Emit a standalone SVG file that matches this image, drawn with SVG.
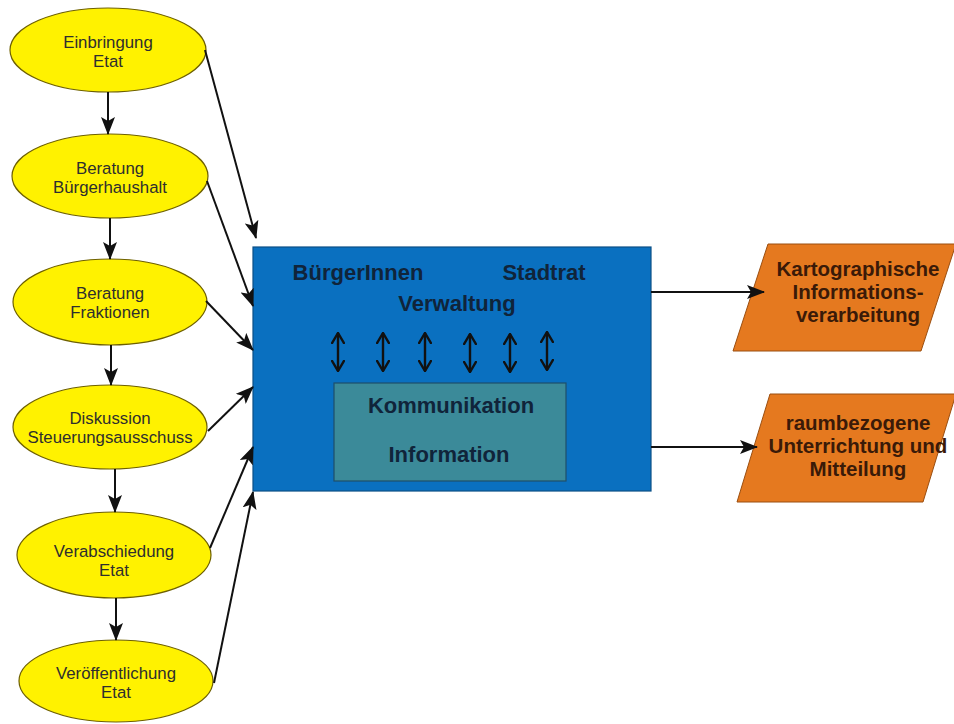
<svg xmlns="http://www.w3.org/2000/svg" width="954" height="724" viewBox="0 0 954 724">
<defs>
<marker id="ah" viewBox="0 0 18 14" refX="17" refY="7" markerWidth="18" markerHeight="14" markerUnits="userSpaceOnUse" orient="auto-start-reverse">
<path d="M0,0 L18,7 L0,14 L4,7 Z" fill="#111"/>
</marker>
<marker id="ahs" viewBox="0 0 12 14" refX="11" refY="7" markerWidth="12" markerHeight="14" markerUnits="userSpaceOnUse" orient="auto-start-reverse">
<path d="M0,0.5 L11,7 L0,13.5" fill="none" stroke="#111" stroke-width="2.4"/>
</marker>
</defs>
<style>
.ell{fill:#fff200;stroke:#6e6000;stroke-width:1.2}
.et{font-family:"Liberation Sans",Arial,sans-serif;font-size:16.8px;fill:#2e2e2e;text-anchor:middle}
.bt{font-family:"Liberation Sans",Arial,sans-serif;font-size:22px;font-weight:bold;fill:#10243a;text-anchor:middle}
.ot{font-family:"Liberation Sans",Arial,sans-serif;font-size:20.5px;font-weight:bold;fill:#3a1a08;text-anchor:middle}
.par{fill:#e5791f;stroke:#9a4e10;stroke-width:1}
.c{stroke:#111;stroke-width:2;fill:none}
.d{stroke:#111;stroke-width:2.4;fill:none}
</style>
<rect width="954" height="724" fill="#fff"/>
<g id="n1"><ellipse class="ell" cx="108" cy="50" rx="98" ry="42"/><text class="et" x="108" y="48">Einbringung</text><text class="et" x="108" y="67">Etat</text></g>
<g id="n2"><ellipse class="ell" cx="110" cy="176" rx="98" ry="42"/><text class="et" x="110" y="174">Beratung</text><text class="et" x="110" y="193">Bürgerhaushalt</text></g>
<g id="n3"><ellipse class="ell" cx="110" cy="302" rx="97" ry="43"/><text class="et" x="110" y="299">Beratung</text><text class="et" x="110" y="318">Fraktionen</text></g>
<g id="n4"><ellipse class="ell" cx="110" cy="427" rx="97" ry="42"/><text class="et" x="110" y="424">Diskussion</text><text class="et" x="110" y="443">Steuerungsausschuss</text></g>
<g id="n5"><ellipse class="ell" cx="114" cy="555" rx="97" ry="43"/><text class="et" x="114" y="557">Verabschiedung</text><text class="et" x="114" y="576">Etat</text></g>
<g id="n6"><ellipse class="ell" cx="116" cy="681" rx="97" ry="41"/><text class="et" x="116" y="679">Veröffentlichung</text><text class="et" x="116" y="698">Etat</text></g>
<g id="main">
<rect x="253" y="247" width="398" height="244" fill="#0a70c0" stroke="#0b4f86" stroke-width="1.2"/>
<text class="bt" x="358" y="280">BürgerInnen</text>
<text class="bt" x="544" y="280">Stadtrat</text>
<text class="bt" x="457" y="311">Verwaltung</text>
</g>
<g id="inner">
<rect x="334" y="383" width="232" height="98" fill="#3b8a99" stroke="#1f4f6a" stroke-width="1.2"/>
<text class="bt" x="451" y="413">Kommunikation</text>
<text class="bt" x="449" y="462">Information</text>
</g>
<g id="out1"><polygon class="par" points="768,244 956,244 921,351 733,351"/><text class="ot" x="858" y="276">Kartographische</text><text class="ot" x="858" y="299">Informations-</text><text class="ot" x="858" y="322">verarbeitung</text></g>
<g id="out2"><polygon class="par" points="770,394 956,394 923,502 737,502"/><text class="ot" x="858" y="430">raumbezogene</text><text class="ot" x="858" y="453">Unterrichtung und</text><text class="ot" x="858" y="476">Mitteilung</text></g>
<g id="connectors">
<line class="c" x1="108" y1="92" x2="108" y2="134" marker-end="url(#ah)"/>
<line class="c" x1="110" y1="218" x2="110" y2="259" marker-end="url(#ah)"/>
<line class="c" x1="111" y1="345" x2="111" y2="385" marker-end="url(#ah)"/>
<line class="c" x1="115" y1="469" x2="115" y2="512" marker-end="url(#ah)"/>
<line class="c" x1="116" y1="598" x2="116" y2="640" marker-end="url(#ah)"/>
<line class="c" x1="205" y1="50" x2="256" y2="238" marker-end="url(#ah)"/>
<line class="c" x1="207" y1="181" x2="253" y2="306" marker-end="url(#ah)"/>
<line class="c" x1="206" y1="301" x2="253" y2="350" marker-end="url(#ah)"/>
<line class="c" x1="208" y1="431" x2="253" y2="387" marker-end="url(#ah)"/>
<line class="c" x1="210" y1="548" x2="253" y2="447" marker-end="url(#ah)"/>
<line class="c" x1="214" y1="683" x2="253" y2="492" marker-end="url(#ah)"/>
<line class="c" x1="651" y1="292" x2="764" y2="292" marker-end="url(#ah)"/>
<line class="c" x1="651" y1="447" x2="757" y2="447" marker-end="url(#ah)"/>
<line class="d" x1="338" y1="333" x2="338" y2="371" marker-start="url(#ahs)" marker-end="url(#ahs)"/>
<line class="d" x1="383" y1="333" x2="383" y2="371" marker-start="url(#ahs)" marker-end="url(#ahs)"/>
<line class="d" x1="425" y1="333" x2="425" y2="371" marker-start="url(#ahs)" marker-end="url(#ahs)"/>
<line class="d" x1="470" y1="334" x2="470" y2="372" marker-start="url(#ahs)" marker-end="url(#ahs)"/>
<line class="d" x1="510" y1="334" x2="510" y2="372" marker-start="url(#ahs)" marker-end="url(#ahs)"/>
<line class="d" x1="547" y1="332" x2="547" y2="370" marker-start="url(#ahs)" marker-end="url(#ahs)"/>
</g>
</svg>
